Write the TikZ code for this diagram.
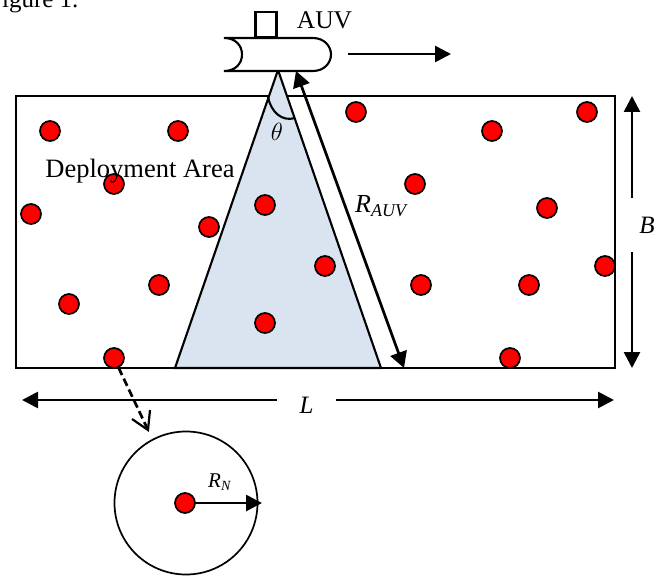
\documentclass[tikz,border=0pt]{standalone}
\usepackage{fontspec}
\setmainfont{Liberation Serif}
\usetikzlibrary{arrows.meta}
\definecolor{beamfill}{HTML}{DAE3F0}
\tikzset{
  dot/.style={circle,draw=black,fill=red,line width=1.7pt,minimum size=20pt,inner sep=0pt},
  thick line/.style={line width=2.7pt},
  big arrow/.style={thick line,-{Triangle[length=16pt,width=16pt]}},
  both arrow/.style={thick line,{Triangle[length=16pt,width=17pt]}-{Triangle[length=16pt,width=17pt]}},
  shape line/.style={draw=black,line width=2.1pt},
  lbl/.style={inner sep=0pt,anchor=base,text=black}
}
\begin{document}
\begin{tikzpicture}[x=1pt,y=-1pt]
\useasboundingbox (0,0) rectangle (665,583);
\node[lbl,anchor=base west,font=\fontsize{25}{25}\selectfont] (cap) at (-12,8) {Figure 1.};
% deployment area
\node[shape line,draw,minimum width=599pt,minimum height=272.5pt,inner sep=0pt,anchor=center] (area) at (315.5,232) {};
% beam
\coordinate (apex) at (278,70);
\coordinate (bl) at (175,368);
\coordinate (br) at (381,368);
\draw[shape line,fill=beamfill] (apex) -- (bl) -- (br) -- cycle;
\draw[shape line] (268,97) .. controls (271,112) and (282,122) .. (295,118);
% AUV
\node[shape line,draw,fill=white,minimum width=21pt,minimum height=25pt,inner sep=0pt,anchor=south] (mast) at (266,38) {};
\draw[shape line,fill=white] (224,38) -- (313,38) .. controls (324,38) and (331,46) .. (331,54.5) .. controls (331,63) and (324,71) .. (313,71) -- (224,71) .. controls (236,71) and (242,63) .. (242,54.5) .. controls (242,46) and (236,38) .. (224,38) -- cycle;
\node[lbl,font=\fontsize{25.5}{25.5}\selectfont] (auv) at (324.5,29) {AUV};
\coordinate (mva) at (348,54);
\coordinate (mvb) at (451,54);
\draw[big arrow] (mva) -- (mvb);
% dots
\foreach \n/\x/\y in {a/50/131,b/178/131,c/356/112,d/492/131,e/587/112,f/114/184,g/415/184,h/31/214,i/209/227,j/265/205,k/547/208,l/325/266,m/159/285,n/421/285,o/529/285,p/605/266,q/69/304,r/265/323,t/510/358}
  \node[dot] (\n) at (\x,\y) {};
\node[dot] (s) at (114,358) {};
\node[lbl,font=\fontsize{26.5}{26.5}\selectfont] (dep) at (140,178) {Deployment Area};
\node[lbl,font=\itshape\fontsize{24}{24}\selectfont] (theta) at (277,141) {$\theta$};
% range arrow
\coordinate (ra) at (296,71);
\coordinate (rb) at (404,368);
\draw[both arrow] (ra) -- (rb);
\node[lbl,anchor=base west,font=\itshape\fontsize{26}{26}\selectfont] (rauv) at (355,213) {R\textsubscript{\fontsize{18}{18}\selectfont AUV}};
% B
\coordinate (ba) at (632,198);
\coordinate (bb) at (632,96);
\coordinate (bc) at (632,252);
\coordinate (bd) at (632,368);
\draw[big arrow] (ba) -- (bb);
\draw[big arrow] (bc) -- (bd);
\node[lbl,font=\itshape\fontsize{25}{25}\selectfont] (blab) at (647,234) {B};
% L
\coordinate (la) at (277,400);
\coordinate (lb) at (22,400);
\coordinate (lc) at (336,400);
\coordinate (ld) at (614,400);
\draw[big arrow] (la) -- (lb);
\draw[big arrow] (lc) -- (ld);
\node[lbl,font=\itshape\fontsize{25}{25}\selectfont] (llab) at (306.5,413) {L};
% node range
\node[circle,draw=black,line width=1.7pt,minimum size=143pt,inner sep=0pt] (range) at (186,503) {};
\node[dot] (cen) at (185,503) {};
\coordinate (rim) at (262,503);
\draw[big arrow] (cen) -- (rim);
\node[lbl,anchor=base west,font=\itshape\fontsize{21}{21}\selectfont] (rn) at (208,487) {R\textsubscript{\fontsize{14}{14}\selectfont N}};
% dashed
\coordinate (dashend) at (148,430);
\draw[thick line,dash pattern=on 8pt off 4pt] (s) -- (dashend);
\draw[line width=2.2pt] ([shift={(-16,-11)}]dashend) -- (dashend) -- ([shift={(2,-20)}]dashend);
\end{tikzpicture}
\end{document}
